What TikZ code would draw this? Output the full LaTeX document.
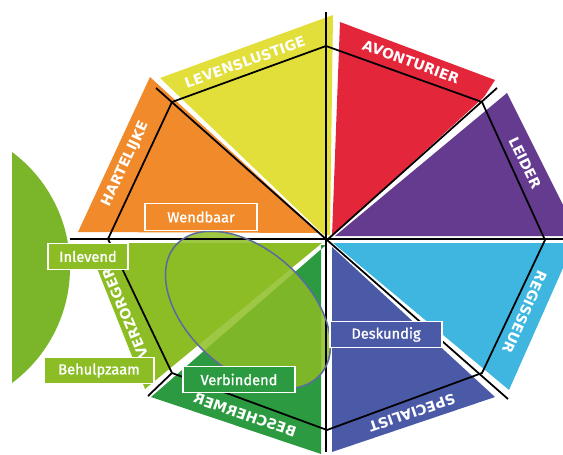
\documentclass[tikz,border=0pt]{standalone}
\usepackage{fontspec}
\newfontfamily\bandfont{DejaVu Sans}
\newfontfamily\tagfont{Fira Sans}[FakeBold=1.2]
\definecolor{sunyellow}{HTML}{E2DF3B}
\definecolor{warmorange}{HTML}{F08A2A}
\definecolor{advred}{HTML}{E3263A}
\definecolor{leadpurple}{HTML}{653B8F}
\definecolor{skycyan}{HTML}{3FB6DF}
\definecolor{specblue}{HTML}{4B5AA7}
\definecolor{guarddark}{HTML}{2B9A40}
\definecolor{careleaf}{HTML}{8CBD25}
\definecolor{lensgreen}{HTML}{7BB62A}
\definecolor{ovalline}{HTML}{5C6B9E}
\tikzset{
  band/.style={text=white, inner sep=0pt, font=\bandfont\bfseries\fontsize{12}{12}\selectfont},
  tagbox/.style={draw=white, line width=1.1pt, text=white, inner sep=2pt,
    minimum width=3.36cm, minimum height=0.8cm, font=\tagfont\fontsize{12.5}{13}\selectfont},
  spoke/.style={black, line width=1.5pt},
}
\begin{document}
\begin{tikzpicture}[x=0.03cm,y=-0.03cm]
\useasboundingbox (0,0) rectangle (563,455);

\begin{scope}
  \clip (12,0) rectangle (563,455);
  \fill[lensgreen] (-74,267.5) circle[radius=4.32cm];
\end{scope}

\fill[sunyellow] (324,235) -- (160,78) -- (333,15) -- (330,235) -- cycle;
\fill[warmorange] (78,232) -- (150,77) -- (320,233) -- cycle;
\fill[advred] (332,236) -- (340,22) -- (495,80) -- (484,97) -- cycle;
\fill[leadpurple] (335,236) -- (507,93) -- (563,205) -- (563,236) -- cycle;
\fill[skycyan] (333,243) -- (563,243) -- (563,268) -- (509,390) -- cycle;
\fill[specblue] (332,247) -- (495,397) -- (332,452) -- cycle;
\fill[guarddark] (326,245) -- (151,397) -- (321,454) -- (321,245) -- cycle;
\fill[careleaf] (87,243) -- (322,243) -- (145,389) -- cycle;

\fill[careleaf, opacity=.85, rotate around={-42:(248,310)}] (248,310) ellipse[x radius=2.91cm, y radius=1.8cm];

\coordinate (hub) at (327,240);
\draw[spoke] (326,12) -- (326,452);
\draw[spoke] (70,239) -- (563,239);
\draw[spoke] (hub) -- (156,88);
\draw[spoke] (hub) -- (497,88);
\draw[spoke] (hub) -- (508,399);
\draw[spoke] (172,373) -- (148,396);
\draw[spoke, line join=miter] (326,46) -- (482,102) -- (545,240) -- (482,373) -- (327,430)
  -- (172,373) -- (108,239) -- (172,102) -- cycle;

\draw[ovalline, line width=1.3pt, rotate around={-42:(248,310)}] (248,310) ellipse[x radius=2.91cm, y radius=1.8cm];

\node[band, rotate=19.5] (levens) at (245,62) {LEVENSLUSTIGE};
\node[band, rotate=-20] (avont) at (411,62) {AVONTURIER};
\node[band, rotate=-64] (leider) at (525,163) {LEIDER};
\node[band, rotate=-114] (regis) at (525,312) {REGISSEUR};
\node[band, rotate=199] (spec) at (412,413) {SPECIALIST};
\node[band, rotate=-19] (besch) at (245,415) {\reflectbox{BESCHERMER}};
\node[band, rotate=113] (verz) at (125,313) {VERZORGER};
\node[band, rotate=65] (hart) at (126,164) {HARTELIJKE};

\node[tagbox, fill=warmorange] (wendbaar) at (201,217) {Wendbaar};
\node[tagbox, fill=careleaf, minimum width=2.4cm] (inlevend) at (88,256.5) {Inlevend};
\node[tagbox, fill=careleaf, minimum width=3.3cm] (behulp) at (99,370.5) {Behulpzaam};
\node[tagbox, fill=guarddark] (verbind) at (239,379.5) {Verbindend};
\node[tagbox, fill=specblue] (deskundig) at (386,334.5) {Deskundig};
\end{tikzpicture}
\end{document}
